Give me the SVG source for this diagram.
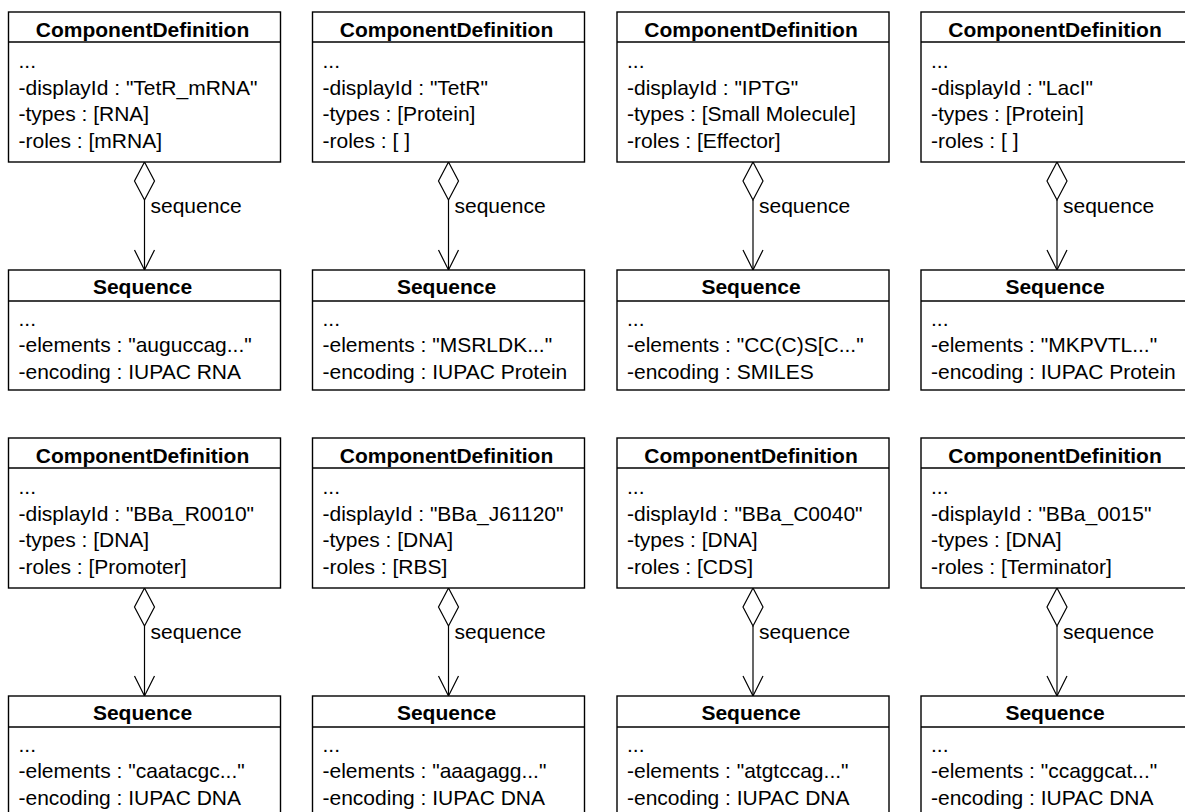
<svg xmlns="http://www.w3.org/2000/svg" width="1185" height="812" viewBox="0 0 1185 812">
<defs>
<style>
.box{fill:#fff;stroke:#000;stroke-width:1.4}
.sep{stroke:#000;stroke-width:1.4}
.hd{font-family:"Liberation Sans",Arial,sans-serif;font-size:21px;font-weight:bold;text-anchor:middle;fill:#000}
.tx{font-family:"Liberation Sans",Arial,sans-serif;font-size:21px;fill:#000}
.ln{fill:none;stroke:#000;stroke-width:1.2}
.dia{fill:#fff;stroke:#000;stroke-width:1.2}
</style>
<g id="cdTpl">
<rect class="box" x="0" y="0" width="272" height="150"/>
<line class="sep" x1="0" y1="30" x2="272" y2="30"/>
<text class="hd" x="134" y="25">ComponentDefinition</text>
<text class="tx" x="10" y="56">...</text>
</g>
<g id="sqTpl">
<rect class="box" x="0" y="0" width="272" height="120"/>
<line class="sep" x1="0" y1="31" x2="272" y2="31"/>
<text class="hd" x="134" y="24">Sequence</text>
<text class="tx" x="10" y="56">...</text>
</g>
<g id="conTpl">
<line class="ln" x1="0" y1="38" x2="0" y2="108"/>
<path class="dia" d="M0,0 L10,19 L0,38 L-10,19 Z"/>
<path class="ln" d="M-10,88 L0,108 L10,88"/>
<text class="tx" x="6" y="51">sequence</text>
</g>
</defs>

<g id="connectors">
<use href="#conTpl" x="144.5" y="162"/>
<use href="#conTpl" x="448.5" y="162"/>
<use href="#conTpl" x="753" y="162"/>
<use href="#conTpl" x="1057" y="162"/>
<use href="#conTpl" x="144.5" y="588"/>
<use href="#conTpl" x="448.5" y="588"/>
<use href="#conTpl" x="753" y="588"/>
<use href="#conTpl" x="1057" y="588"/>
</g>

<g id="cd1" transform="translate(8.5,12)">
<use href="#cdTpl"/>
<text class="tx" x="10" y="82.5">-displayId : "TetR_mRNA"</text>
<text class="tx" x="10" y="109">-types : [RNA]</text>
<text class="tx" x="10" y="135.5">-roles : [mRNA]</text>
</g>
<g id="seq1" transform="translate(8.5,270)">
<use href="#sqTpl"/>
<text class="tx" x="10" y="82">-elements : "auguccag..."</text>
<text class="tx" x="10" y="108.5">-encoding : IUPAC RNA</text>
</g>

<g id="cd2" transform="translate(312.5,12)">
<use href="#cdTpl"/>
<text class="tx" x="10" y="82.5">-displayId : "TetR"</text>
<text class="tx" x="10" y="109">-types : [Protein]</text>
<text class="tx" x="10" y="135.5">-roles : [ ]</text>
</g>
<g id="seq2" transform="translate(312.5,270)">
<use href="#sqTpl"/>
<text class="tx" x="10" y="82">-elements : "MSRLDK..."</text>
<text class="tx" x="10" y="108.5">-encoding : IUPAC Protein</text>
</g>

<g id="cd3" transform="translate(617,12)">
<use href="#cdTpl"/>
<text class="tx" x="10" y="82.5">-displayId : "IPTG"</text>
<text class="tx" x="10" y="109">-types : [Small Molecule]</text>
<text class="tx" x="10" y="135.5">-roles : [Effector]</text>
</g>
<g id="seq3" transform="translate(617,270)">
<use href="#sqTpl"/>
<text class="tx" x="10" y="82">-elements : "CC(C)S[C..."</text>
<text class="tx" x="10" y="108.5">-encoding : SMILES</text>
</g>

<g id="cd4" transform="translate(921,12)">
<use href="#cdTpl"/>
<text class="tx" x="10" y="82.5">-displayId : "LacI"</text>
<text class="tx" x="10" y="109">-types : [Protein]</text>
<text class="tx" x="10" y="135.5">-roles : [ ]</text>
</g>
<g id="seq4" transform="translate(921,270)">
<use href="#sqTpl"/>
<text class="tx" x="10" y="82">-elements : "MKPVTL..."</text>
<text class="tx" x="10" y="108.5">-encoding : IUPAC Protein</text>
</g>

<g id="cd5" transform="translate(8.5,438)">
<use href="#cdTpl"/>
<text class="tx" x="10" y="82.5">-displayId : "BBa_R0010"</text>
<text class="tx" x="10" y="109">-types : [DNA]</text>
<text class="tx" x="10" y="135.5">-roles : [Promoter]</text>
</g>
<g id="seq5" transform="translate(8.5,696)">
<use href="#sqTpl"/>
<text class="tx" x="10" y="82">-elements : "caatacgc..."</text>
<text class="tx" x="10" y="108.5">-encoding : IUPAC DNA</text>
</g>

<g id="cd6" transform="translate(312.5,438)">
<use href="#cdTpl"/>
<text class="tx" x="10" y="82.5">-displayId : "BBa_J61120"</text>
<text class="tx" x="10" y="109">-types : [DNA]</text>
<text class="tx" x="10" y="135.5">-roles : [RBS]</text>
</g>
<g id="seq6" transform="translate(312.5,696)">
<use href="#sqTpl"/>
<text class="tx" x="10" y="82">-elements : "aaagagg..."</text>
<text class="tx" x="10" y="108.5">-encoding : IUPAC DNA</text>
</g>

<g id="cd7" transform="translate(617,438)">
<use href="#cdTpl"/>
<text class="tx" x="10" y="82.5">-displayId : "BBa_C0040"</text>
<text class="tx" x="10" y="109">-types : [DNA]</text>
<text class="tx" x="10" y="135.5">-roles : [CDS]</text>
</g>
<g id="seq7" transform="translate(617,696)">
<use href="#sqTpl"/>
<text class="tx" x="10" y="82">-elements : "atgtccag..."</text>
<text class="tx" x="10" y="108.5">-encoding : IUPAC DNA</text>
</g>

<g id="cd8" transform="translate(921,438)">
<use href="#cdTpl"/>
<text class="tx" x="10" y="82.5">-displayId : "BBa_0015"</text>
<text class="tx" x="10" y="109">-types : [DNA]</text>
<text class="tx" x="10" y="135.5">-roles : [Terminator]</text>
</g>
<g id="seq8" transform="translate(921,696)">
<use href="#sqTpl"/>
<text class="tx" x="10" y="82">-elements : "ccaggcat..."</text>
<text class="tx" x="10" y="108.5">-encoding : IUPAC DNA</text>
</g>
</svg>
